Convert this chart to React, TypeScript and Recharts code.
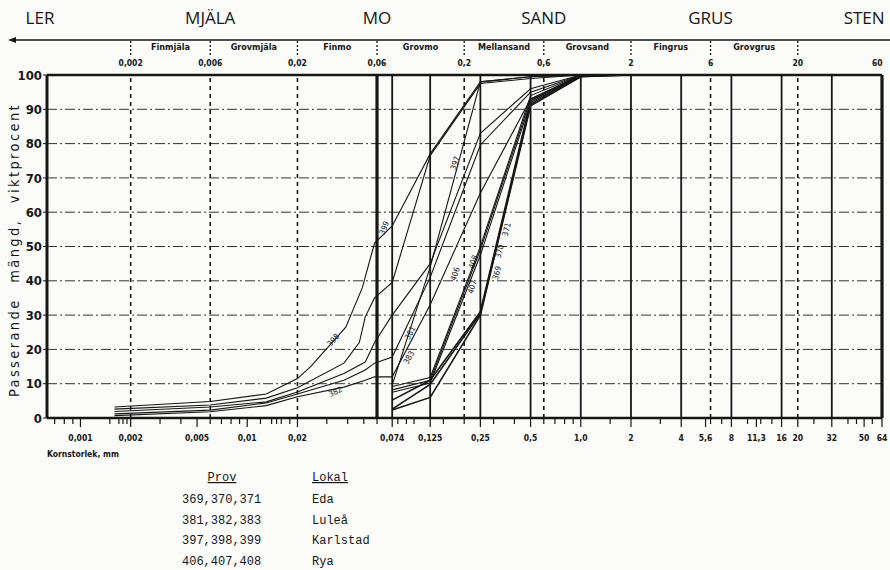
import React from 'react';
import { LineChart, Line, XAxis, YAxis, CartesianGrid, ReferenceLine, ReferenceDot } from 'recharts';

// sieve sizes (mm) used by every sample
const sieveSizes = [0.074, 0.125, 0.25, 0.5, 1, 2];

// Eda
const prov369 = [2.3, 6.0, 30, 91, 99.5, 100];
const prov370 = [2.6, 9.8, 30.5, 91.5, 99.7, 100];
const prov371 = [5.2, 11, 31, 92.5, 100, 100];
// Rya
const prov406 = [8.2, 11, 49, 93, 100, 100];
const prov407 = [7.5, 10.2, 47.5, 92, 99.8, 100];
const prov408 = [9.2, 11.8, 50, 94, 100, 100];
// Karlstad
const prov397 = [9.6, 44, 98, 99.5, 100, 100];
const prov398 = [56, 77, 98, 99.5, 100, 100];
const prov399 = [39.5, 76.5, 97.5, 99, 100, 100];
// Luleå
const prov381 = [30, 45, 83, 96, 100, 100];
const prov382 = [17.8, 41, 79.6, 95, 100, 100];
const prov383 = [12, 33, 65.6, 93, 99.5, 100];

// hydrometer (fine) part
const fine398Sizes = [0.0016, 0.006, 0.013, 0.02, 0.024, 0.039, 0.049, 0.058];
const fine398 = [3.2, 4.8, 7.0, 11.5, 15, 26.5, 38, 51];
const fine399Sizes = [0.0016, 0.006, 0.013, 0.02, 0.038, 0.047, 0.051, 0.058];
const fine399 = [2.6, 3.8, 5.8, 8.8, 16, 22, 29.5, 35];
const fineLuleaSizes = [0.0016, 0.006, 0.013, 0.02, 0.038, 0.051, 0.058];
const fine381 = [1.9, 3.2, 4.7, 7.6, 13, 16.3, 22];
const fine382 = [1.2, 2.3, 4.4, 7.0, 11, 14, 16];
const fine383 = [0.7, 1.8, 3.6, 6.2, 9, 11, 12];

// axes
const xDomain = [0.00063, 64];
const yTicks = [0, 10, 20, 30, 40, 50, 60, 70, 80, 90, 100];
const bottomLabels = [0.001, 0.002, 0.005, 0.01, 0.02, 0.074, 0.125, 0.25, 0.5, 1, 2, 4, 5.6, 8, 11.3, 16, 20, 32, 50, 64];
const bottomLabelTexts = ['0,001', '0,002', '0,005', '0,01', '0,02', '0,074', '0,125', '0,25', '0,5', '1,0', '2', '4', '5,6', '8', '11,3', '16', '20', '32', '50', '64'];
const minorTicks = [0.0007, 0.0008, 0.0009, 0.0015, 0.0017, 0.0018, 0.0019, 0.003, 0.004, 0.006, 0.007, 0.008, 0.009, 0.012, 0.014, 0.015, 0.016, 0.018, 0.03, 0.04, 0.05, 0.06, 0.08, 0.09, 0.1, 0.15, 0.2, 0.3, 0.4, 0.6, 0.7, 0.8, 0.9, 1.5, 3, 6, 7, 10, 12, 14, 25, 40, 45, 56];

// classification header
const boundaries = [0.002, 0.006, 0.02, 0.06, 0.2, 0.6, 2, 6, 20, 60];
const boundaryTexts = ['0,002', '0,006', '0,02', '0,06', '0,2', '0,6', '2', '6', '20', '60'];
const subClasses = ['Finmjäla', 'Grovmjäla', 'Finmo', 'Grovmo', 'Mellansand', 'Grovsand', 'Fingrus', 'Grovgrus'];
const mainClasses = ['MJÄLA', 'MO', 'SAND', 'GRUS', 'STEN'];
const mainClassAt = [0.006, 0.06, 0.6, 6, 50];

const solidLines = [0.074, 0.125, 0.25, 0.5, 1, 2, 4, 8, 16, 32];
const dashedLines = [0.002, 0.006, 0.02, 0.2, 0.6, 6, 20];
const thickLines = [0.06, 64];

const curveLabels = [
  { t: '398', d: 0.0329, p: 22.7, a: -48 },
  { t: '382', d: 0.0338, p: 7.6, a: -25 },
  { t: '399', d: 0.0665, p: 55.4, a: -68 },
  { t: '397', d: 0.177, p: 74.3, a: -72 },
  { t: '381', d: 0.095, p: 24.8, a: -62 },
  { t: '383', d: 0.0935, p: 17.6, a: -62 },
  { t: '406', d: 0.177, p: 42, a: -72 },
  { t: '408', d: 0.227, p: 45.5, a: -72 },
  { t: '407', d: 0.224, p: 38.2, a: -72 },
  { t: '369', d: 0.315, p: 42.3, a: -76 },
  { t: '370', d: 0.327, p: 48.6, a: -76 },
  { t: '371', d: 0.36, p: 55, a: -76 },
];

const tableProv = ['369,370,371', '381,382,383', '397,398,399', '406,407,408'];
const tableLokal = ['Eda', 'Luleå', 'Karlstad', 'Rya'];

const toPoints = (sizes: number[], values: number[]) => sizes.map((d, i) => ({ d, p: values[i] }));

const curves = [
  { id: '369', data: toPoints(sieveSizes, prov369), w: 1.6 },
  { id: '370', data: toPoints(sieveSizes, prov370), w: 1.6 },
  { id: '371', data: toPoints(sieveSizes, prov371), w: 1.6 },
  { id: '406', data: toPoints(sieveSizes, prov406), w: 1.1 },
  { id: '407', data: toPoints(sieveSizes, prov407), w: 1.1 },
  { id: '408', data: toPoints(sieveSizes, prov408), w: 1.1 },
  { id: '397', data: toPoints(sieveSizes, prov397), w: 1.1 },
  { id: '398', data: [...toPoints(fine398Sizes, fine398), ...toPoints(sieveSizes, prov398)], w: 1.1 },
  { id: '399', data: [...toPoints(fine399Sizes, fine399), ...toPoints(sieveSizes, prov399)], w: 1.1 },
  { id: '381', data: [...toPoints(fineLuleaSizes, fine381), ...toPoints(sieveSizes, prov381)], w: 1.1 },
  { id: '382', data: [...toPoints(fineLuleaSizes, fine382), ...toPoints(sieveSizes, prov382)], w: 1.1 },
  { id: '383', data: [...toPoints(fineLuleaSizes, fine383), ...toPoints(sieveSizes, prov383)], w: 1.1 },
];

const INK = '#161616';
const COND = '"DejaVu Sans Condensed", "DejaVu Sans", sans-serif';
const HEAD = '"Open Sans", "DejaVu Sans", sans-serif';

// header items keyed by position on the x scale
const headerItems: { v: number; b?: string; m?: string; s?: string }[] = [
  ...boundaries.map((v, i) => ({ v, b: boundaryTexts[i] })),
  ...mainClassAt.map((v, i) => ({ v, m: mainClasses[i] })),
  ...subClasses.map((s, i) => ({ v: Math.sqrt(boundaries[i] * boundaries[i + 1]), s })),
];
const bottomTicks = [...bottomLabels, ...minorTicks].sort((a, b) => a - b);

const HeaderItem = ({ x, item }: { x: number; item: { b?: string; m?: string; s?: string } }) => (
  <g>
    {item.m && (
      <text x={x} y={24} textAnchor="middle" fontFamily={HEAD} fontSize={17} fill={INK}>{item.m}</text>
    )}
    {item.b && item.b !== '60' && (
      <line x1={x} x2={x} y1={41} y2={55} stroke={INK} strokeWidth={1.3} strokeDasharray="2 2" />
    )}
    {item.b && (
      <text x={x} y={66} textAnchor="middle" fontFamily={COND} fontWeight="bold" fontSize={8.5} fill={INK}>{item.b}</text>
    )}
    {item.s && (
      <text x={x} y={50} textAnchor="middle" fontFamily={COND} fontWeight="bold" fontSize={9} fill={INK}>{item.s}</text>
    )}
  </g>
);

const BottomTick = (props: any) => {
  const { x, payload } = props;
  const i = bottomLabels.indexOf(payload.value);
  return (
    <g>
      <line x1={x} x2={x} y1={418} y2={i >= 0 ? 427 : 424} stroke={INK} strokeWidth={1.2} />
      {i >= 0 && (
        <text x={x} y={441} textAnchor="middle" fontFamily={COND} fontWeight="bold" fontSize={8.5} fill={INK}>
          {bottomLabelTexts[i]}
        </text>
      )}
    </g>
  );
};

export default function App() {
  return (
    <div style={{ position: 'absolute', left: 0, top: 0, width: 890, height: 570, background: '#fbfbfa', overflow: 'hidden' }}>
      <LineChart width={890} height={470} margin={{ top: 75, right: 8, bottom: 0, left: 0 }}>
        <CartesianGrid vertical={false} stroke="#333" strokeWidth={1} strokeDasharray="10 3 2 3" />
        <XAxis dataKey="d" type="number" scale="log" domain={xDomain} allowDataOverflow
          height={52} ticks={bottomTicks} interval={0} tickLine={false}
          axisLine={{ stroke: INK, strokeWidth: 2.5 }} tick={(p: any) => <BottomTick {...p} />} />
        <YAxis type="number" domain={[0, 100]} ticks={yTicks} width={47} interval={0}
          axisLine={{ stroke: INK, strokeWidth: 3 }} tickLine={{ stroke: INK }} tickSize={4} tickMargin={1}
          tick={{ fill: INK, fontFamily: COND, fontWeight: 'bold', fontSize: 13 }} />
        <ReferenceLine y={100} stroke={INK} strokeWidth={2.5} />
        {solidLines.map((v) => (
          <ReferenceLine key={'s' + v} x={v} stroke={INK} strokeWidth={1.8} />
        ))}
        {dashedLines.map((v) => (
          <ReferenceLine key={'d' + v} x={v} stroke={INK} strokeWidth={1.6} strokeDasharray="4 4" />
        ))}
        {thickLines.map((v) => (
          <ReferenceLine key={'t' + v} x={v} stroke={INK} strokeWidth={3.2} />
        ))}
        {headerItems.map((h, i) => (
          <ReferenceLine key={'h' + i} x={h.v} stroke="none" ifOverflow="visible"
            label={{ content: (p: any) => <HeaderItem x={p.viewBox.x} item={h} /> }} />
        ))}
        {curves.map((c) => (
          <Line key={c.id} data={c.data} dataKey="p" name={c.id} type="linear" stroke={INK}
            strokeWidth={c.w} dot={false} isAnimationActive={false} />
        ))}
        {curveLabels.map((l) => (
          <ReferenceDot key={'l' + l.t + l.d} x={l.d} y={l.p} r={0} ifOverflow="visible"
            shape={(p: any) => (
              <text x={p.cx} y={p.cy} transform={`rotate(${l.a} ${p.cx} ${p.cy})`} textAnchor="middle"
                dominantBaseline="middle" fontFamily={COND} fontSize={8} fill={INK} stroke="none">{l.t}</text>
            )} />
        ))}
      </LineChart>
      <svg width={890} height={570} style={{ position: 'absolute', left: 0, top: 0, pointerEvents: 'none' }}>
        <line x1={12} x2={890} y1={40} y2={40} stroke={INK} strokeWidth={1.5} />
        <path d="M 8 40 L 16 37 L 16 43 Z" fill={INK} />
        <text x={40} y={24} textAnchor="middle" fontFamily={HEAD} fontSize={17} fill={INK}>LER</text>
        <text x={19} y={250} textAnchor="middle" transform="rotate(-90 19 250)" fontFamily={COND}
          fontSize={14.5} letterSpacing={2.4} wordSpacing={9} fill={INK}>Passerande mängd, viktprocent</text>
        <text x={47} y={457} fontFamily={COND} fontWeight="bold" fontSize={8.5} fill={INK}>Kornstorlek, mm</text>
        <g fontFamily='"Liberation Mono", "DejaVu Sans Mono", monospace' fontSize={12} fill={INK}>
          <text x={222} y={481} textAnchor="middle" textDecoration="underline">Prov</text>
          <text x={312} y={481} textDecoration="underline">Lokal</text>
          {tableProv.map((t, i) => (
            <text key={t} x={182} y={503 + i * 20.5}>{t}</text>
          ))}
          {tableLokal.map((t, i) => (
            <text key={t} x={312} y={503 + i * 20.5}>{t}</text>
          ))}
        </g>
      </svg>
    </div>
  );
}
